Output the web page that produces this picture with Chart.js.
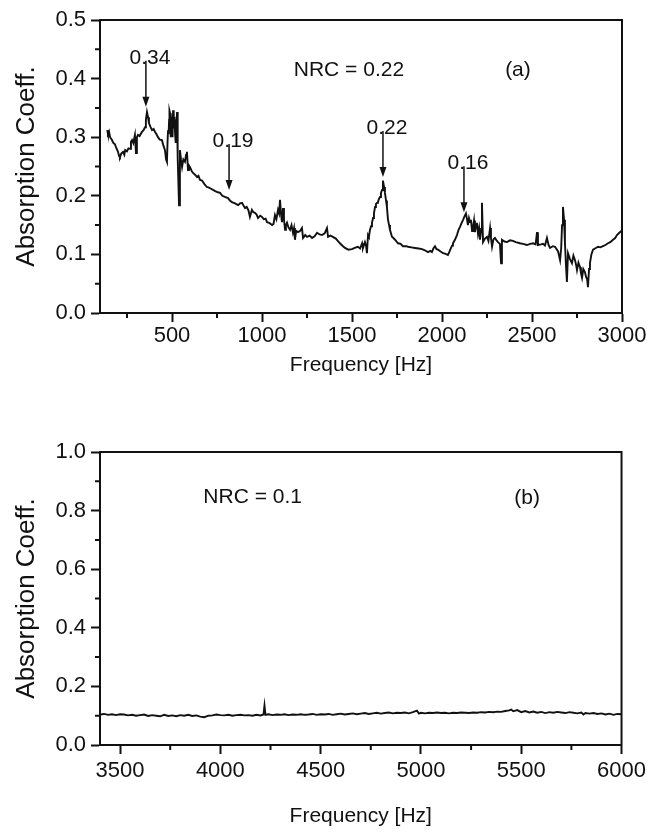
<!DOCTYPE html>
<html>
<head>
<meta charset="utf-8">
<script src="https://cdn.jsdelivr.net/npm/chart.js@4.4.0/dist/chart.umd.min.js"></script>
<style>
  html, body { margin: 0; padding: 0; background: #fff; }
  #wrapA { position: absolute; left: 0; top: 0; width: 650px; height: 400px; }
  #wrapB { position: absolute; left: 0; top: 400px; width: 650px; height: 438px; }
</style>
</head>
<body>
<div id="wrapA"><canvas id="chartA"></canvas></div>
<div id="wrapB"><canvas id="chartB"></canvas></div>
<script>
// panel (a): 100 - 3000 Hz
const freqA = [
  140, 144, 150, 156, 165, 175, 183, 190, 200, 206, 211, 218, 228, 235, 240, 250, 258, 267, 272, 278,
  285, 294, 300, 305, 311, 320, 333, 342, 350, 355, 361, 367, 372, 380, 389, 398, 406, 414, 422, 432,
  444, 452, 461, 467, 472, 475, 478, 481, 484, 486, 489, 492, 494, 497, 500, 503, 506, 508, 511, 514,
  517, 519, 522, 525, 528, 530, 533, 539, 544, 550, 556,
  563, 572, 578, 583, 589, 594, 600, 610, 617, 628, 639, 647, 656, 667, 680, 694, 705, 717, 728, 740,
  755, 767, 780, 794, 811, 822, 833, 850, 867, 878, 889, 898, 906, 915, 925, 933, 944, 952, 961, 970,
  978, 990, 1000, 1010, 1020, 1028, 1040, 1056, 1064, 1072, 1080, 1089, 1095, 1100, 1106, 1111, 1117, 1122, 1128, 1133,
  1139, 1147, 1156, 1164, 1172, 1178, 1183, 1190, 1200, 1211, 1222, 1228, 1240, 1250, 1265, 1278, 1292, 1306, 1320, 1333,
  1348, 1361, 1367, 1380, 1394, 1410, 1433, 1450, 1461, 1480, 1500, 1515, 1533, 1545, 1556, 1561, 1572, 1578, 1583, 1589,
  1594, 1600, 1606, 1611, 1617, 1622, 1628, 1633, 1639, 1644, 1650, 1656, 1661, 1667, 1672, 1678, 1683, 1689, 1694, 1700,
  1706, 1711, 1722, 1730, 1739, 1750, 1756, 1770, 1783, 1800, 1811, 1830, 1850, 1870, 1889, 1905, 1922, 1935, 1944, 1952,
  1961, 1970, 1978, 1992, 2006, 2020, 2033, 2042, 2050, 2056, 2061, 2072, 2083, 2092, 2100, 2108, 2117, 2125, 2133, 2139,
  2144, 2150, 2156, 2161, 2167, 2172, 2178, 2183, 2189, 2194, 2200, 2206, 2211, 2217, 2222, 2228, 2239, 2250, 2258, 2267,
  2272, 2278, 2286, 2294, 2303, 2311, 2322, 2328, 2333, 2347, 2361, 2378, 2394, 2410, 2433, 2450, 2472, 2490, 2506, 2520,
  2528, 2533, 2550, 2561, 2572, 2583, 2592, 2600, 2615, 2628, 2645, 2656, 2662, 2667, 2672, 2678, 2683, 2689, 2694, 2700,
  2711, 2722, 2730, 2739, 2745, 2750, 2758, 2767, 2772, 2778, 2785, 2794, 2800, 2806, 2811, 2817, 2822, 2830, 2839, 2850,
  2867, 2880, 2894, 2908, 2922, 2935, 2950, 2962, 2972, 2985, 3000
];
const absA = [
  0.312, 0.306, 0.310, 0.300, 0.296, 0.290, 0.288, 0.282, 0.275, 0.268, 0.266, 0.272, 0.275, 0.270, 0.278, 0.276, 0.281, 0.280, 0.292, 0.295,
  0.290, 0.304, 0.273, 0.300, 0.304, 0.302, 0.309, 0.312, 0.317, 0.330, 0.343, 0.334, 0.324, 0.318, 0.312, 0.314, 0.309, 0.305, 0.300, 0.296,
  0.295, 0.286, 0.278, 0.262, 0.258, 0.290, 0.312, 0.305, 0.330, 0.345, 0.341, 0.300, 0.320, 0.335, 0.317, 0.300, 0.346, 0.338, 0.315, 0.335,
  0.307, 0.290, 0.330, 0.318, 0.343, 0.300, 0.266, 0.184, 0.278, 0.262, 0.249,
  0.262, 0.258, 0.270, 0.275, 0.244, 0.252, 0.249, 0.242, 0.239, 0.236, 0.232, 0.234, 0.227, 0.226, 0.220, 0.215, 0.214, 0.212, 0.210, 0.208,
  0.206, 0.205, 0.200, 0.198, 0.196, 0.192, 0.189, 0.187, 0.184, 0.187, 0.188, 0.183, 0.179, 0.181, 0.175, 0.164, 0.176, 0.172, 0.171, 0.168,
  0.162, 0.166, 0.164, 0.160, 0.161, 0.155, 0.154, 0.150, 0.152, 0.167, 0.160, 0.176, 0.170, 0.193, 0.168, 0.155, 0.179, 0.160, 0.142, 0.150,
  0.154, 0.146, 0.142, 0.150, 0.137, 0.145, 0.125, 0.140, 0.138, 0.140, 0.145, 0.128, 0.133, 0.130, 0.132, 0.128, 0.131, 0.137, 0.134, 0.133,
  0.136, 0.145, 0.130, 0.132, 0.130, 0.127, 0.119, 0.114, 0.111, 0.108, 0.109, 0.111, 0.113, 0.110, 0.119, 0.111, 0.121, 0.115, 0.102, 0.133,
  0.130, 0.142, 0.148, 0.154, 0.162, 0.170, 0.181, 0.186, 0.188, 0.189, 0.195, 0.198, 0.205, 0.210, 0.226, 0.215, 0.205, 0.192, 0.181, 0.159,
  0.150, 0.142, 0.130, 0.128, 0.125, 0.121, 0.119, 0.118, 0.114, 0.114, 0.113, 0.112, 0.111, 0.110, 0.109, 0.107, 0.104, 0.106, 0.104, 0.110,
  0.114, 0.109, 0.108, 0.105, 0.102, 0.101, 0.099, 0.105, 0.111, 0.115, 0.119, 0.125, 0.133, 0.142, 0.147, 0.153, 0.159, 0.165, 0.170, 0.160,
  0.150, 0.162, 0.155, 0.159, 0.140, 0.145, 0.158, 0.138, 0.150, 0.154, 0.135, 0.145, 0.125, 0.140, 0.188, 0.121, 0.127, 0.130, 0.123, 0.145,
  0.128, 0.113, 0.126, 0.128, 0.124, 0.121, 0.118, 0.085, 0.125, 0.122, 0.121, 0.124, 0.123, 0.121, 0.119, 0.118, 0.116, 0.118, 0.119, 0.117,
  0.138, 0.116, 0.117, 0.118, 0.115, 0.128, 0.116, 0.111, 0.114, 0.113, 0.105, 0.090, 0.110, 0.150, 0.181, 0.159, 0.120, 0.080, 0.053, 0.102,
  0.092, 0.085, 0.098, 0.090, 0.082, 0.073, 0.086, 0.078, 0.068, 0.060, 0.075, 0.070, 0.062, 0.058, 0.044, 0.075, 0.085, 0.100, 0.108, 0.110,
  0.113, 0.112, 0.114, 0.116, 0.119, 0.121, 0.125, 0.128, 0.133, 0.137, 0.141
];
const xTicksA = [500, 1000, 1500, 2000, 2500, 3000];
const xMinorA = [250, 750, 1250, 1750, 2250, 2750];
const yTicksA = [0, 0.1, 0.2, 0.3, 0.4, 0.5];
const yMinorA = [0.05, 0.15, 0.25, 0.35, 0.45];
const peakFreqA = [355, 817, 1672, 2122];
const peakTipA = [0.352, 0.21, 0.232, 0.172];
const peakLabelA = ["0.34", "0.19", "0.22", "0.16"];

// panel (b): 3400 - 6000 Hz
const freqB = [
  3400, 3420, 3440, 3460, 3480, 3500, 3520, 3540, 3560, 3580, 3600, 3620, 3640, 3660, 3680, 3700, 3720, 3740, 3760, 3780,
  3800, 3820, 3840, 3860, 3880, 3900, 3920, 3940, 3960, 3980, 4000, 4020, 4040, 4060, 4080, 4100, 4120, 4140, 4160, 4180,
  4200, 4215, 4220, 4225, 4240, 4260, 4280, 4300, 4320, 4340, 4360, 4380, 4400, 4420, 4440, 4460, 4480, 4500, 4520, 4540,
  4560, 4580, 4600, 4620, 4640, 4660, 4680, 4700, 4720, 4740, 4760, 4780, 4800, 4820, 4840, 4860, 4880, 4900, 4920, 4940,
  4960, 4980, 4990, 5000, 5020, 5040, 5060, 5080, 5100, 5120, 5140, 5160, 5180, 5200, 5220, 5240, 5260, 5280, 5300, 5320,
  5340, 5360, 5380, 5400, 5420, 5440, 5450, 5460, 5480, 5500, 5520, 5540, 5560, 5580, 5600, 5620, 5640, 5660, 5680, 5700,
  5720, 5740, 5760, 5780, 5800, 5810, 5820, 5840, 5860, 5880, 5900, 5920, 5940, 5960, 5980, 6000
];
const absB = [
  0.104, 0.106, 0.103, 0.105, 0.102, 0.105, 0.104, 0.101, 0.103, 0.100, 0.102, 0.104, 0.099, 0.102, 0.100, 0.098, 0.103, 0.099, 0.101, 0.098,
  0.102, 0.100, 0.103, 0.099, 0.101, 0.097, 0.095, 0.100, 0.101, 0.104, 0.102, 0.101, 0.103, 0.100, 0.102, 0.103, 0.101, 0.102, 0.100, 0.103,
  0.101, 0.104, 0.135, 0.103, 0.105, 0.102, 0.104, 0.103, 0.105, 0.102, 0.104, 0.103, 0.105, 0.103, 0.104, 0.106, 0.103, 0.105, 0.104, 0.106,
  0.103, 0.105, 0.107, 0.104, 0.106, 0.108, 0.105, 0.107, 0.109, 0.106, 0.108, 0.110, 0.107, 0.109, 0.111, 0.108, 0.110, 0.109, 0.111, 0.108,
  0.112, 0.117, 0.107, 0.110, 0.108, 0.110, 0.109, 0.111, 0.109, 0.110, 0.108, 0.110, 0.109, 0.111, 0.110, 0.109, 0.111, 0.110, 0.112, 0.111,
  0.113, 0.112, 0.114, 0.113, 0.116, 0.118, 0.121, 0.115, 0.119, 0.112, 0.116, 0.111, 0.114, 0.110, 0.113, 0.109, 0.112, 0.110, 0.113, 0.111,
  0.109, 0.112, 0.110, 0.108, 0.111, 0.104, 0.109, 0.107, 0.109, 0.106, 0.108, 0.104, 0.107, 0.103, 0.106, 0.105
];
const xTicksB = [3500, 4000, 4500, 5000, 5500, 6000];
const xMinorB = [3750, 4250, 4750, 5250, 5750];
const yTicksB = [0, 0.2, 0.4, 0.6, 0.8, 1.0];
const yMinorB = [0.1, 0.3, 0.5, 0.7, 0.9];

const FONT = "'Liberation Sans', Arial, sans-serif";
const INK = "#111";

// frame, minor ticks, notes and arrows
const panelDeco = {
  id: "panelDeco",
  afterDraw(chart, args, opts) {
    const { ctx, chartArea: a, scales } = chart;
    const xs = scales.x, ys = scales.y;
    ctx.save();
    ctx.strokeStyle = INK;
    ctx.lineWidth = 2;
    ctx.strokeRect(a.left, a.top, a.right - a.left, a.bottom - a.top);
    ctx.beginPath();
    (opts.xMinor || []).forEach(v => {
      const px = xs.getPixelForValue(v);
      ctx.moveTo(px, a.bottom);
      ctx.lineTo(px, a.bottom + 5);
    });
    (opts.yMinor || []).forEach(v => {
      const py = ys.getPixelForValue(v);
      ctx.moveTo(a.left - 5, py);
      ctx.lineTo(a.left, py);
    });
    ctx.stroke();

    ctx.fillStyle = INK;
    ctx.font = "21px " + FONT;
    ctx.textAlign = "center";
    ctx.textBaseline = "middle";
    (opts.notes || []).forEach(n => {
      ctx.fillText(n.text, xs.getPixelForValue(n.x), ys.getPixelForValue(n.y));
    });

    const arrows = opts.arrows || { freq: [], tip: [], label: [] };
    ctx.lineWidth = 1.5;
    arrows.freq.forEach((f, i) => {
      const px = xs.getPixelForValue(f);
      const tip = ys.getPixelForValue(arrows.tip[i]);
      ctx.beginPath();
      ctx.moveTo(px, tip - 46);
      ctx.lineTo(px, tip - 8);
      ctx.stroke();
      ctx.beginPath();
      ctx.moveTo(px - 3.5, tip - 10);
      ctx.lineTo(px + 3.5, tip - 10);
      ctx.lineTo(px, tip);
      ctx.closePath();
      ctx.fill();
      ctx.fillText(arrows.label[i], px + 4, tip - 49);
    });
    ctx.restore();
  }
};

function makePanel(id, cfg) {
  const pts = cfg.freq.map((f, i) => ({ x: f, y: cfg.vals[i] }));
  return new Chart(document.getElementById(id).getContext("2d"), {
    type: "line",
    data: {
      datasets: [{ data: pts, borderColor: INK, borderWidth: 1.9, pointRadius: 0, tension: 0, fill: false }],
    },
    options: {
      responsive: true,
      maintainAspectRatio: false,
      animation: false,
      layout: { padding: { top: cfg.padTop, right: cfg.padRight, left: 0, bottom: 0 } },
      plugins: {
        legend: { display: false },
        tooltip: { enabled: false },
        panelDeco: { xMinor: cfg.xMinor, yMinor: cfg.yMinor, notes: cfg.notes, arrows: cfg.arrows },
      },
      scales: {
        x: {
          type: "linear",
          min: cfg.xMin,
          max: cfg.xMax,
          afterBuildTicks: s => { s.ticks = cfg.xTicks.map(v => ({ value: v })); },
          afterFit: s => { s.height = cfg.xHeight; },
          grid: { drawOnChartArea: false, drawTicks: true, tickLength: 9, tickWidth: 2, tickColor: INK },
          border: { display: true, color: INK, width: 2 },
          ticks: {
            color: INK, font: { family: FONT, size: 22 }, padding: cfg.xTickPad,
            maxRotation: 0, autoSkip: false, callback: v => String(v),
          },
          title: {
            display: true, text: "Frequency [Hz]", color: INK,
            font: { family: FONT, size: 21 }, padding: { top: 0, bottom: cfg.xTitlePad },
          },
        },
        y: {
          type: "linear",
          min: 0,
          max: cfg.yMax,
          afterBuildTicks: s => { s.ticks = cfg.yTicks.map(v => ({ value: v })); },
          afterFit: s => { s.width = 100; },
          grid: { drawOnChartArea: false, drawTicks: true, tickLength: 9, tickWidth: 2, tickColor: INK },
          border: { display: true, color: INK, width: 2 },
          ticks: {
            color: INK, font: { family: FONT, size: 22 }, padding: 5,
            autoSkip: false, callback: v => Number(v).toFixed(1),
          },
          title: {
            display: true, text: "Absorption Coeff.", color: INK,
            font: { family: FONT, size: 26 }, padding: { top: 11, bottom: 0 },
          },
        },
      },
    },
    plugins: [panelDeco],
  });
}

makePanel("chartA", {
  freq: freqA, vals: absA, xMin: 100, xMax: 3000, yMax: 0.5,
  xTicks: xTicksA, yTicks: yTicksA, xMinor: xMinorA, yMinor: yMinorA,
  padTop: 20, padRight: 28, xHeight: 87, xTickPad: 1, xTitlePad: 22,
  notes: [{ text: "NRC = 0.22", x: 1483, y: 0.415 }, { text: "(a)", x: 2422, y: 0.415 }],
  arrows: { freq: peakFreqA, tip: peakTipA, label: peakLabelA },
});

makePanel("chartB", {
  freq: freqB, vals: absB, xMin: 3400, xMax: 6000, yMax: 1.0,
  xTicks: xTicksB, yTicks: yTicksB, xMinor: xMinorB, yMinor: yMinorB,
  padTop: 52, padRight: 27, xHeight: 93, xTickPad: 4, xTitlePad: 9,
  notes: [{ text: "NRC = 0.1", x: 4161, y: 0.846 }, { text: "(b)", x: 5529, y: 0.843 }],
});
</script>
</body>
</html>
